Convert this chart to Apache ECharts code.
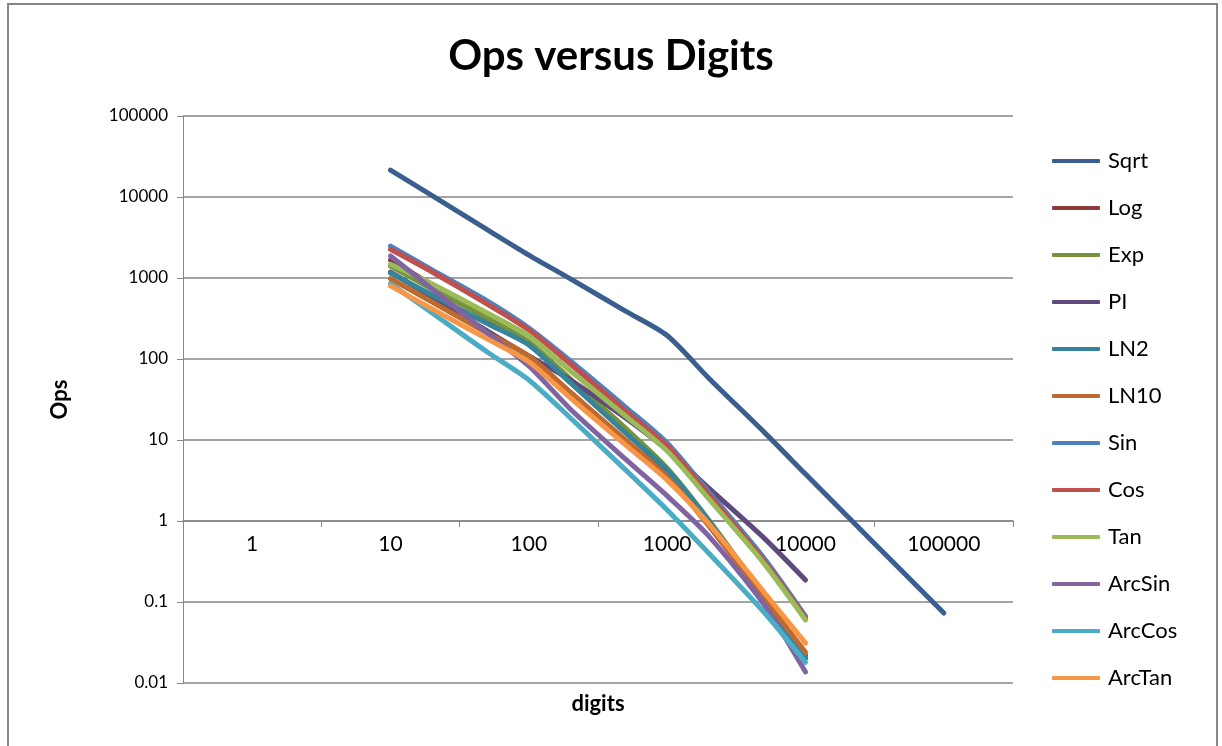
<!DOCTYPE html>
<html><head><meta charset="utf-8">
<script src="https://cdn.jsdelivr.net/npm/echarts@6/dist/echarts.min.js"></script>
<style>html,body{margin:0;padding:0;background:#fff}#c{width:1222px;height:746px}</style>
</head><body><div id="c"></div>
<script>
// x values (digits)
const digits = [10, 20, 50, 100, 200, 500, 1000, 2000, 5000, 10000];
const sqrtDigits = [10, 20, 50, 100, 200, 500, 1000, 2000, 5000, 10000, 20000, 50000, 100000];
const xTickLabels = ['1', '10', '100', '1000', '10000', '100000'];
const seriesNames = ['Sqrt', 'Log', 'Exp', 'PI', 'LN2', 'LN10', 'Sin', 'Cos', 'Tan', 'ArcSin', 'ArcCos', 'ArcTan'];
const seriesColors = ['#3A5F8F', '#8E3A38', '#76923C', '#604A7B', '#35849B', '#BE6A2E',
                      '#4F81BD', '#C0504D', '#9BBB59', '#8064A2', '#4BACC6', '#F79646'];

// ops values
const sqrtOps   = [21500, 10400, 3950, 1920, 975, 390, 195, 58, 12.6, 3.8, 1.15, 0.24, 0.073];
const logOps    = [1670, 820, 312, 153, 52, 12.6, 4.0, 0.94, 0.112, 0.022];
const expOps    = [1405, 731, 321, 162, 56.6, 14, 4.5, 1.03, 0.118, 0.021];
const piOps     = [1185, 582, 222, 109, 55, 18.7, 7.5, 2.55, 0.62, 0.187];
const ln2Ops    = [1150, 617, 275, 149, 50.6, 12.2, 4.27, 1.0, 0.11, 0.02];
const ln10Ops   = [980, 506, 209, 109, 39, 10, 3.5, 0.87, 0.112, 0.024];
const sinOps    = [2480, 1256, 520, 241, 94.5, 25.5, 9.2, 2.28, 0.35, 0.067];
const cosOps    = [2260, 1186, 477, 228, 86.7, 22.8, 8.4, 2.1, 0.32, 0.063];
const tanOps    = [1475, 843, 370, 192, 71, 19.8, 7.3, 1.87, 0.30, 0.060];
const arcSinOps = [1870, 731, 209, 82, 24, 5.8, 2.04, 0.65, 0.094, 0.0137];
const arcCosOps = [850, 370, 122, 55, 18.7, 4.27, 1.37, 0.40, 0.0753, 0.018];
const arcTanOps = [800, 414, 177, 92, 33, 8.7, 3.2, 0.92, 0.133, 0.031];

const allOps = [sqrtOps, logOps, expOps, piOps, ln2Ops, ln10Ops, sinOps, cosOps, tanOps, arcSinOps, arcCosOps, arcTanOps];

const FONT = 'Lato';
const GRID_COLOR = '#868686';

const series = seriesNames.map((name, i) => {
  const xs = i === 0 ? sqrtDigits : digits;
  return {
    name: name,
    type: 'line',
    xAxisIndex: 0,
    yAxisIndex: 0,
    showSymbol: false,
    symbol: 'none',
    smooth: 0.25,
    color: seriesColors[i],
    lineStyle: { width: 5, color: seriesColors[i], cap: 'round', join: 'round' },
    data: xs.map((x, k) => [x, allOps[i][k]]),
    animation: false
  };
});

const chart = echarts.init(document.getElementById('c'), null, { renderer: 'canvas' });
chart.setOption({
  backgroundColor: '#ffffff',
  animation: false,
  title: {
    text: 'Ops versus Digits',
    left: 'center',
    top: 30,
    textStyle: { fontFamily: FONT, fontSize: 42, fontWeight: 'bold', color: '#000' }
  },
  legend: {
    orient: 'vertical',
    left: 1047,
    top: 145,
    itemWidth: 48,
    itemHeight: 4,
    itemGap: 25,
    icon: 'roundRect',
    data: seriesNames,
    textStyle: { fontFamily: FONT, fontSize: 22, color: '#000', lineHeight: 20, padding: [0, 0, 0, 3] }
  },
  grid: { left: 183, top: 116, width: 830, height: 567, containLabel: false },
  xAxis: [
    {
      type: 'log',
      logBase: 10,
      min: Math.pow(10, -0.5),
      max: Math.pow(10, 5.5),
      show: false,
      gridIndex: 0
    },
    {
      type: 'category',
      gridIndex: 0,
      position: 'bottom',
      offset: -162,
      data: xTickLabels,
      boundaryGap: true,
      name: 'digits',
      nameLocation: 'middle',
      nameGap: 172,
      nameTextStyle: { fontFamily: FONT, fontSize: 22, fontWeight: 'bold', color: '#000' },
      axisLine: { show: true, onZero: false, lineStyle: { color: GRID_COLOR, width: 1.5 } },
      axisTick: { show: true, length: 6, alignWithLabel: false, lineStyle: { color: GRID_COLOR } },
      axisLabel: { margin: 13, fontFamily: FONT, fontSize: 21, color: '#000' },
      splitLine: { show: false }
    }
  ],
  yAxis: {
    type: 'log',
    logBase: 10,
    min: 0.01,
    max: 100000,
    name: 'Ops',
    nameLocation: 'middle',
    nameRotate: 90,
    nameGap: 112,
    nameTextStyle: { fontFamily: FONT, fontSize: 22, fontWeight: 'bold', color: '#000' },
    axisLine: { show: true, lineStyle: { color: GRID_COLOR, width: 1 } },
    axisTick: { show: true, length: 6, lineStyle: { color: GRID_COLOR } },
    axisLabel: {
      margin: 15, fontFamily: FONT, fontSize: 17, color: '#000',
      formatter: v => v >= 1 ? String(Math.round(v)) : String(parseFloat(v.toPrecision(3)))
    },
    splitLine: { show: true, lineStyle: { color: GRID_COLOR, width: 1.5 } }
  },
  graphic: [{
    type: 'rect',
    silent: true,
    shape: { x: 8, y: 4, width: 1209, height: 760 },
    style: { fill: 'none', stroke: GRID_COLOR, lineWidth: 2 }
  }],
  series: series
});
</script>
</body></html>
